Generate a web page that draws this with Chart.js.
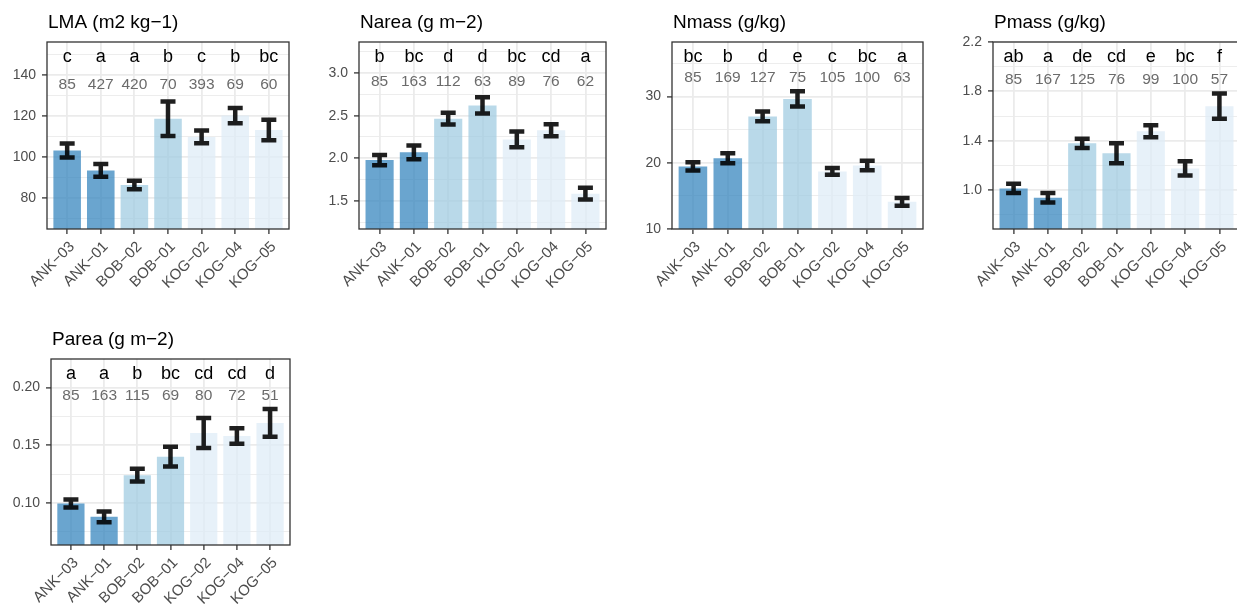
<!DOCTYPE html>
<html>
<head>
<meta charset="utf-8">
<script src="https://cdn.jsdelivr.net/npm/chart.js@4"></script>
<style>
    body {
        margin: 0;
        width: 1237px;
        height: 606px;
        overflow: hidden;
        position: relative;
        background: #fff;
        font-family: 'Liberation Sans', Arial, sans-serif;
    }
    canvas {
        position: absolute;
    }
</style>
</head>
<body>
<canvas id="c-lma"></canvas>
<canvas id="c-narea"></canvas>
<canvas id="c-nmass"></canvas>
<canvas id="c-pmass"></canvas>
<canvas id="c-parea"></canvas>

<script>
// plot sites, same order in every panel
const sites = ['ANK−03', 'ANK−01', 'BOB−02', 'BOB−01', 'KOG−02', 'KOG−04', 'KOG−05'];

// LMA (m2 kg-1)
const lmaMean = [103.2, 93.5, 86.4, 118.7, 109.8, 120.2, 113.2];
const lmaSe = [3.4, 3.1, 2.1, 8.4, 3.1, 3.7, 5.0];
const lmaLetters = ['c', 'a', 'a', 'b', 'c', 'b', 'bc'];
const lmaN = [85, 427, 420, 70, 393, 69, 60];
const lmaTicks = [80, 100, 120, 140];

// Narea (g m-2)
const nareaMean = [1.98, 2.07, 2.465, 2.62, 2.222, 2.33, 1.586];
const nareaSe = [0.06, 0.08, 0.07, 0.095, 0.093, 0.07, 0.068];
const nareaLetters = ['b', 'bc', 'd', 'd', 'bc', 'cd', 'a'];
const nareaN = [85, 163, 112, 63, 89, 76, 62];
const nareaTicks = [1.5, 2.0, 2.5, 3.0];

// Nmass (g/kg)
const nmassMean = [19.45, 20.7, 27.0, 29.65, 18.7, 19.6, 14.1];
const nmassSe = [0.63, 0.75, 0.74, 1.15, 0.5, 0.72, 0.58];
const nmassLetters = ['bc', 'b', 'd', 'e', 'c', 'bc', 'a'];
const nmassN = [85, 169, 127, 75, 105, 100, 63];
const nmassTicks = [10, 20, 30];

// Pmass (g/kg)
const pmassMean = [1.014, 0.938, 1.379, 1.298, 1.477, 1.176, 1.68];
const pmassSe = [0.038, 0.038, 0.038, 0.081, 0.048, 0.058, 0.102];
const pmassLetters = ['ab', 'a', 'de', 'cd', 'e', 'bc', 'f'];
const pmassN = [85, 167, 125, 76, 99, 100, 57];
const pmassTicks = [1.0, 1.4, 1.8, 2.2];

// Parea (g m-2)
const pareaMean = [0.0997, 0.0881, 0.1242, 0.1402, 0.1607, 0.1581, 0.1694];
const pareaSe = [0.0035, 0.0046, 0.0056, 0.0085, 0.013, 0.0067, 0.012];
const pareaLetters = ['a', 'a', 'b', 'bc', 'cd', 'cd', 'd'];
const pareaN = [85, 163, 115, 69, 80, 72, 51];
const pareaTicks = [0.10, 0.15, 0.20];

const FONT = "'Liberation Sans', Arial, sans-serif";
const AXIS_W = 47;   // room left of the panel for y labels
const TOP_PAD = 42;  // room above the panel for the title
const CANVAS_H = 300;

// site group colours (ggplot Blues with alpha)
function siteColor(name) {
    if (name.startsWith('ANK')) return 'rgba(49, 130, 189, 0.72)';
    if (name.startsWith('BOB')) return 'rgba(158, 202, 225, 0.72)';
    return 'rgba(222, 235, 247, 0.72)';
}

const panels = [
    {id: 'c-lma', title: 'LMA (m2 kg−1)', mean: lmaMean, se: lmaSe, letters: lmaLetters, n: lmaN,
     ticks: lmaTicks, min: 65, max: 156, dec: 0, box: {left: 47, top: 42, w: 242, h: 187}, countY: 47},
    {id: 'c-narea', title: 'Narea (g m−2)', mean: nareaMean, se: nareaSe, letters: nareaLetters, n: nareaN,
     ticks: nareaTicks, min: 1.172, max: 3.363, dec: 1, box: {left: 359, top: 42, w: 247, h: 187}, countY: 44},
    {id: 'c-nmass', title: 'Nmass (g/kg)', mean: nmassMean, se: nmassSe, letters: nmassLetters, n: nmassN,
     ticks: nmassTicks, min: 10, max: 38.25, dec: 0, box: {left: 672, top: 42, w: 251, h: 187}, countY: 40},
    {id: 'c-pmass', title: 'Pmass (g/kg)', mean: pmassMean, se: pmassSe, letters: pmassLetters, n: pmassN,
     ticks: pmassTicks, min: 0.685, max: 2.2, dec: 1, box: {left: 993, top: 42, w: 247, h: 187}, countY: 42},
    {id: 'c-parea', title: 'Parea (g m−2)', mean: pareaMean, se: pareaSe, letters: pareaLetters, n: pareaN,
     ticks: pareaTicks, min: 0.0637, max: 0.2248, dec: 2, box: {left: 51, top: 359, w: 239, h: 186}, countY: 41},
];

// error bars, letters, counts, panel border and title
const panelDecor = {
    id: 'panelDecor',
    afterDatasetsDraw(chart, args, opts) {
        const {ctx, chartArea: a, scales: {x, y}} = chart;
        ctx.save();
        ctx.beginPath();
        ctx.rect(a.left, a.top, a.right - a.left, a.bottom - a.top);
        ctx.clip();
        ctx.strokeStyle = 'rgba(0, 0, 0, 0.88)';
        ctx.lineWidth = 4.5;
        opts.mean.forEach((m, i) => {
            const px = x.getPixelForValue(i);
            const hi = y.getPixelForValue(m + opts.se[i]);
            const lo = y.getPixelForValue(m - opts.se[i]);
            ctx.beginPath();
            ctx.moveTo(px, hi);
            ctx.lineTo(px, lo);
            ctx.moveTo(px - 7.5, hi);
            ctx.lineTo(px + 7.5, hi);
            ctx.moveTo(px - 7.5, lo);
            ctx.lineTo(px + 7.5, lo);
            ctx.stroke();
        });
        ctx.restore();

        ctx.save();
        ctx.textAlign = 'center';
        ctx.textBaseline = 'alphabetic';
        opts.letters.forEach((t, i) => {
            const px = x.getPixelForValue(i);
            ctx.fillStyle = '#000';
            ctx.font = '18px ' + FONT;
            ctx.fillText(t, px, a.top + 20);
            ctx.fillStyle = '#6b6b6b';
            ctx.font = '15.5px ' + FONT;
            ctx.fillText(String(opts.n[i]), px, a.top + opts.countY);
        });
        ctx.strokeStyle = '#333333';
        ctx.lineWidth = 1.3;
        ctx.strokeRect(a.left, a.top, a.right - a.left, a.bottom - a.top);
        ctx.fillStyle = '#000';
        ctx.font = '19px ' + FONT;
        ctx.textAlign = 'left';
        ctx.fillText(opts.title, a.left + 1, a.top - 14);
        ctx.restore();
    }
};

panels.forEach(p => {
    const cv = document.getElementById(p.id);
    cv.width = AXIS_W + p.box.w + 6;
    cv.height = CANVAS_H;
    cv.style.left = (p.box.left - AXIS_W) + 'px';
    cv.style.top = (p.box.top - TOP_PAD) + 'px';

    const step = p.ticks[1] - p.ticks[0];
    const isMajor = v => p.ticks.some(t => Math.abs(t - v) < step * 1e-3);
    const yVals = [];
    for (let v = p.ticks[0] - step * 2; v <= p.max + 1e-9; v += step / 2) {
        if (v >= p.min - 1e-9) yVals.push(v);
    }

    new Chart(cv.getContext('2d'), {
        type: 'bar',
        data: {
            datasets: [{
                data: p.mean.map((m, i) => ({x: i, y: m})),
                backgroundColor: sites.map(siteColor),
                borderWidth: 0,
                categoryPercentage: 1,
                barPercentage: 0.82
            }]
        },
        options: {
            responsive: false,
            animation: false,
            events: [],
            layout: {padding: {top: TOP_PAD, right: 6, left: 0, bottom: 0}, autoPadding: false},
            plugins: {
                legend: {display: false},
                tooltip: {enabled: false},
                panelDecor: {title: p.title, mean: p.mean, se: p.se, letters: p.letters, n: p.n, countY: p.countY}
            },
            scales: {
                x: {
                    type: 'linear',
                    min: -0.6,
                    max: 6.6,
                    offset: false,
                    afterBuildTicks: s => { s.ticks = sites.map((_, i) => ({value: i})); },
                    afterFit: s => { s.height = CANVAS_H - TOP_PAD - p.box.h; },
                    border: {display: false},
                    grid: {offset: false, color: '#EBEBEB', lineWidth: 1.8, tickColor: '#333333', tickLength: 5, tickWidth: 1.3},
                    ticks: {
                        autoSkip: false, maxRotation: 45, minRotation: 45, padding: 4, labelOffset: 5,
                        color: '#4D4D4D', font: {size: 15, family: FONT},
                        callback: v => sites[v]
                    }
                },
                y: {
                    min: p.min,
                    max: p.max,
                    afterBuildTicks: s => { s.ticks = yVals.map(v => ({value: v})); },
                    afterFit: s => { s.width = AXIS_W; },
                    border: {display: false},
                    grid: {
                        color: '#EBEBEB',
                        lineWidth: c => isMajor(c.tick.value) ? 1.8 : 0.9,
                        tickColor: c => isMajor(c.tick.value) ? '#333333' : 'rgba(0,0,0,0)',
                        tickLength: 5,
                        tickWidth: 1.3
                    },
                    ticks: {
                        color: '#4D4D4D', font: {size: 14, family: FONT}, padding: 6,
                        callback: v => isMajor(v) ? v.toFixed(p.dec) : ''
                    }
                }
            }
        },
        plugins: [panelDecor]
    });
});
</script>
</body>
</html>
